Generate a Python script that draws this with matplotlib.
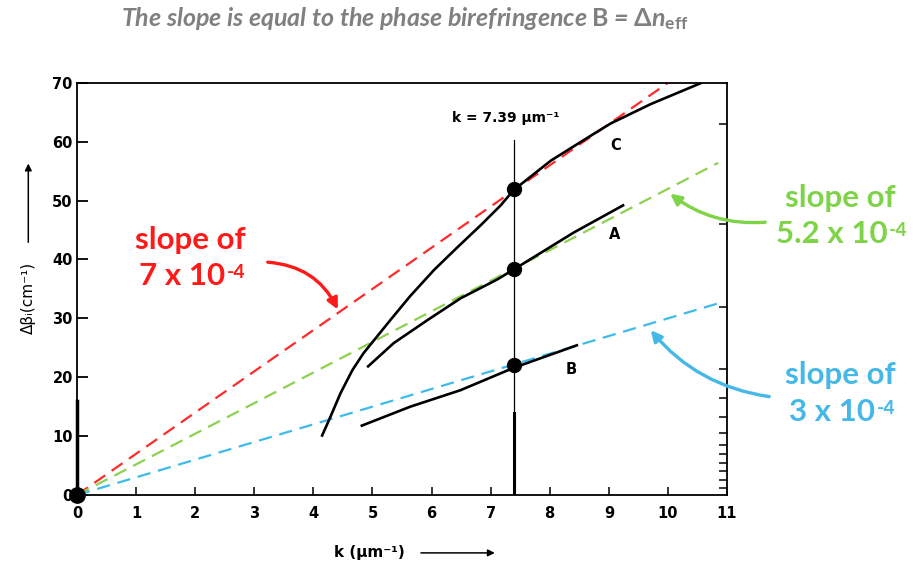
import matplotlib
matplotlib.use("Agg")
import matplotlib.pyplot as plt
from matplotlib.patches import FancyArrowPatch

plt.rcParams['mathtext.fontset'] = 'custom'
plt.rcParams['mathtext.rm'] = 'Lato:bold'
plt.rcParams['mathtext.it'] = 'Lato:bold:italic'
plt.rcParams['mathtext.bf'] = 'Lato:bold'

# ---- data ----
k_C = [4.14, 4.29, 4.46, 4.66, 4.85, 5.02, 5.31, 5.64, 6.04, 6.43, 6.83, 7.17, 7.39,
       8.02, 8.69, 9.03, 9.71, 10.59]
dB_C = [9.9, 13.3, 17.3, 21.2, 24.1, 26.2, 29.8, 33.8, 38.2, 42.0, 45.8, 49.2, 51.8,
        56.8, 61.0, 63.1, 66.4, 70.1]
k_A = [4.91, 5.36, 5.93, 6.49, 7.11, 7.39, 8.41, 9.26]
dB_A = [21.7, 25.8, 29.7, 33.4, 36.6, 38.3, 44.6, 49.3]
k_B = [4.80, 5.64, 6.49, 7.39, 8.48]
dB_B = [11.7, 15.0, 17.8, 21.6, 25.5]

slopes = [7.0, 5.2, 3.0]          # cm^-1 per um^-1  (x 10^-4 birefringence)
slope_kend = [10.0, 10.85, 10.9]
slope_colors = ['#FF2A2A', '#8CD150', '#3DBBEA']

k_mark = 7.39
dots_y = [52.0, 38.4, 22.0]

x_ticks = list(range(0, 12))
y_ticks = list(range(0, 80, 10))
right_minor = [63, 46, 32, 21.4, 16.4, 13.2, 10.5, 8.5, 7, 5.5, 4, 2.5, 1.2]

fig = plt.figure(figsize=(9.13, 5.70), dpi=100)
ax = fig.add_axes([0.0843, 0.1316, 0.7120, 0.7230])
ax.set_xlim(0, 11)
ax.set_ylim(0, 70)

# dashed slope lines
for s, ke, c in zip(slopes, slope_kend, slope_colors):
    ax.plot([0, ke], [0, s * ke], color=c, lw=1.6, ls=(0, (6, 3.5)), zorder=2)

# measured curves
for kx, yy in [(k_C, dB_C), (k_A, dB_A), (k_B, dB_B)]:
    ax.plot(kx, yy, color='black', lw=1.9, solid_capstyle='butt', solid_joinstyle='round', zorder=3)

# vertical marker line
ax.plot([k_mark, k_mark], [0, 60.3], color='black', lw=0.9, zorder=3)
ax.plot([k_mark, k_mark], [0, 14], color='black', lw=2.2, zorder=3)
ax.plot([0, 0], [0, 16], color='black', lw=2.5, zorder=3, clip_on=False)

# dots
ax.plot([k_mark] * 3, dots_y, 'o', color='black', ms=10, zorder=4)
ax.plot([0], [0], 'o', color='black', ms=11, zorder=5, clip_on=False)

# curve labels
lab_kw = dict(fontsize=10.5, fontweight='bold', ha='center', va='center', family='DejaVu Sans')
ax.text(9.12, 59.3, 'C', **lab_kw)
ax.text(9.10, 44.2, 'A', **lab_kw)
ax.text(8.37, 21.4, 'B', **lab_kw)
ax.text(7.25, 64.0, 'k = 7.39 μm⁻¹', fontsize=10, fontweight='bold', ha='center', va='center',
        family='DejaVu Sans')

# ticks
ax.set_xticks(x_ticks)
ax.set_yticks(y_ticks)
ax.set_xticklabels([str(v) for v in x_ticks], fontweight='bold', fontsize=10.5)
ax.set_yticklabels([str(v) for v in y_ticks], fontweight='bold', fontsize=10.5)
ax.tick_params(axis='x', direction='in', length=6, width=1.1, pad=8)
ax.tick_params(axis='y', direction='in', length=8, width=1.3, pad=3)
ax.set_yticks(right_minor, minor=True)
ax.tick_params(axis='y', which='minor', left=False, right=True, direction='in', length=6, width=1.1)
for sp in ax.spines.values():
    sp.set_linewidth(1.3)

# axis labels with arrows
fig.text(0.405, 0.030, 'k (μm⁻¹)', fontsize=11, fontweight='bold', ha='center', va='center',
         family='DejaVu Sans')
fig.add_artist(FancyArrowPatch((0.458, 0.030), (0.545, 0.030), transform=fig.transFigure,
                               arrowstyle='-|>', mutation_scale=10, lw=1.1, color='black'))
fig.text(0.031, 0.478, 'Δβᵢ(cm⁻¹)', fontsize=11, ha='center', va='center', rotation=90,
         family='DejaVu Sans')
fig.add_artist(FancyArrowPatch((0.031, 0.57), (0.031, 0.718), transform=fig.transFigure,
                               arrowstyle='-|>', mutation_scale=10, lw=1.1, color='black'))

# title
fig.text(0.443, 0.968, r'The slope is equal to the phase birefringence $\mathrm{B}$ = $\mathrm{\Delta}n_{\mathrm{eff}}$',
         fontsize=18, fontweight='bold', style='italic', color='#808080', family='Lato',
         ha='center', va='center')


def slope_label(cx, cy1, cy2, base, sup, color):
    kw = dict(fontsize=22.5, fontweight='bold', family='Lato', va='center', color=color)
    fig.text(cx / 913, 1 - cy1 / 570, 'slope of', ha='center', **kw)
    t = fig.text((cx - 8) / 913, 1 - cy2 / 570, base, ha='center', **kw)
    ax.annotate(sup, xy=(1.0, 0.93), xycoords=t, xytext=(1, 0), textcoords='offset points',
                ha='left', va='top', fontsize=14, fontweight='bold', family='Lato', color=color)


slope_label(190, 240, 276, '7 x 10', '-4', '#FF1A1A')
slope_label(840, 198, 234, '5.2 x 10', '-4', '#7ED348')
slope_label(840, 375, 412, '3 x 10', '-4', '#45B8E8')


def fig_arrow(p0, p1, color, rad):
    a = FancyArrowPatch((p0[0] / 913, 1 - p0[1] / 570), (p1[0] / 913, 1 - p1[1] / 570),
                        transform=fig.transFigure, connectionstyle=f'arc3,rad={rad}',
                        arrowstyle='-|>', mutation_scale=16, lw=2.4, color=color)
    fig.add_artist(a)


fig_arrow((265, 262), (339, 312), '#FF1A1A', -0.3)
fig_arrow((768, 222), (668, 192), '#7ED348', -0.2)
fig_arrow((772, 397), (649, 328), '#45B8E8', -0.2)

fig.savefig('out.png', dpi=100)
